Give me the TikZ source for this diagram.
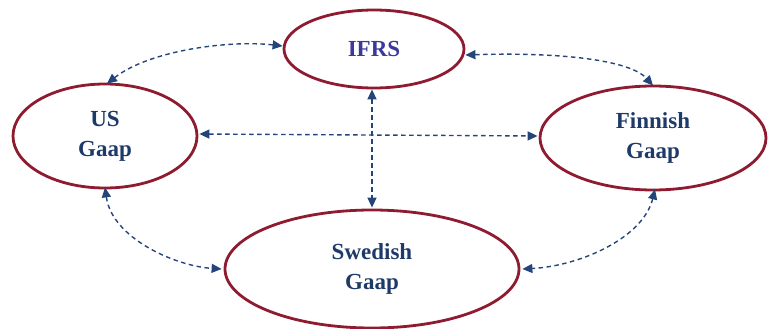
\documentclass[tikz,border=0pt]{standalone}
\usepackage{fontspec}
\setmainfont{Liberation Serif}
\usetikzlibrary{shapes.geometric,arrows.meta}
\definecolor{rimred}{HTML}{8E1B30}
\definecolor{linkblue}{HTML}{24457A}
\definecolor{textnavy}{HTML}{1E3A68}
\definecolor{textindigo}{HTML}{3A3A9C}
\tikzset{
  gaap/.style={ellipse, draw=rimred, line width=2.8pt, fill=white, inner sep=0pt,
    align=center, font=\fontsize{23}{30}\selectfont\bfseries, text=textnavy},
  link/.style={draw=linkblue, line width=1.4pt, dash pattern=on 4.5pt off 3.5pt,
    {Triangle[length=10pt,width=9pt]}-{Triangle[length=10pt,width=9pt]}},
}
\begin{document}
\begin{tikzpicture}[x=1pt,y=-1pt]
  \useasboundingbox (0,0) rectangle (769,329);
  % the four accounting standards
  \node[gaap, minimum width=180pt, minimum height=78pt, text=textindigo] (ifrs) at (374,49) {IFRS};
  \node[gaap, minimum width=184pt, minimum height=104pt] (us) at (105,136) {US\\Gaap};
  \node[gaap, minimum width=226pt, minimum height=104pt] (fin) at (653,138) {Finnish\\Gaap};
  \node[gaap, minimum width=294pt, minimum height=118pt] (swe) at (372,269) {Swedish\\Gaap};
  % mutual links between the standards
  \draw[link] ([xshift=2pt,yshift=-1pt]us.north) .. controls (150,50) and (230,40) .. ([yshift=3pt]ifrs.west);
  \draw[link] ([yshift=-6pt]ifrs.east) .. controls (560,52) and (630,60) .. ([yshift=-1pt]fin.north);
  \draw[link] ([xshift=-2pt]ifrs.south) -- ([yshift=1pt]swe.north);
  \draw[link] ([xshift=1pt,yshift=2pt]us.east) -- ([xshift=-1pt,yshift=2pt]fin.west);
  \draw[link] ([yshift=2pt]us.south) .. controls (112,238) and (175,266) .. ([xshift=-2pt]swe.west);
  \draw[link] ([xshift=2pt,yshift=2pt]fin.south) .. controls (643,238) and (580,266) .. ([xshift=2pt]swe.east);
\end{tikzpicture}
\end{document}
